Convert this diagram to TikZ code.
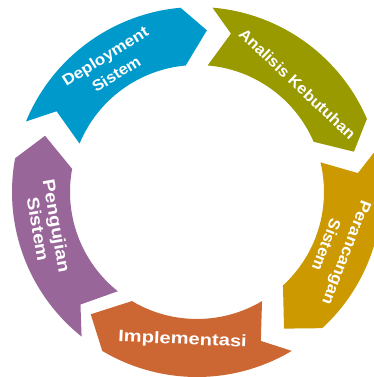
\documentclass[tikz,border=0pt]{standalone}
\usepackage{fontspec}
\usepackage{graphicx}
\setmainfont{Liberation Sans}
\definecolor{cblue}{RGB}{0,153,204}
\definecolor{cgreen}{RGB}{153,153,0}
\definecolor{cgold}{RGB}{204,153,0}
\definecolor{corange}{RGB}{204,102,51}
\definecolor{cpurple}{RGB}{153,102,153}
\newcommand\segpiece[5]{%
  \fill[#1] (#2:185pt) arc[start angle=#2, end angle=#3, radius=185pt]
    -- ({#3-#4}:162pt) -- (#3:127pt)
    arc[start angle=#3, end angle=#2, radius=127pt]
    -- ({#2-#5}:162pt) -- cycle;}
\begin{document}
\begin{tikzpicture}[x=1pt,y=1pt]
\tikzset{lbl/.style={text=white, align=center, inner sep=0pt}}
\useasboundingbox (0,0) rectangle (373,377);
\coordinate (C) at (197,185);
\begin{scope}[shift={(C)}]
  \segpiece{cblue}{157.6}{95.1}{8.6}{7.5}
  \segpiece{cgreen}{85.2}{23.3}{8.9}{7.3}
  \segpiece{cgold}{13.5}{-47.4}{10.1}{6.8}
  \segpiece{corange}{-59.2}{-120.8}{10.2}{7.6}
  \segpiece{cpurple}{231.4}{169.5}{9.8}{7.4}
\end{scope}
\node[lbl, rotate=32, font=\bfseries\fontsize{15.5}{21}\selectfont] (tdep) at (110.7,312)
  {\scalebox{1.11}[1]{Deployment}\\\scalebox{1.06}[1]{Sistem}};
\node[lbl, rotate=-43.4, font=\bfseries\fontsize{15.5}{21}\selectfont] (tana) at (297.5,293)
  {\scalebox{1.06}[1]{Analisis Kebutuhan}};
\node[lbl, rotate=-111, font=\bfseries\fontsize{16}{22}\selectfont] (tper) at (336.7,128)
  {\scalebox{1.10}[1]{Perancangan}\\\scalebox{1.03}[1]{Sistem}};
\node[lbl, rotate=-2.5, font=\bfseries\fontsize{16.5}{21}\selectfont] (timp) at (182.5,37)
  {\scalebox{1.22}[1]{Implementasi}};
\node[lbl, rotate=-80, font=\bfseries\fontsize{17}{19}\selectfont] (tpen) at (47.5,149.4)
  {\scalebox{1.16}[1]{Pengujian}\\\scalebox{1.16}[1]{Sistem}};
\end{tikzpicture}
\end{document}
